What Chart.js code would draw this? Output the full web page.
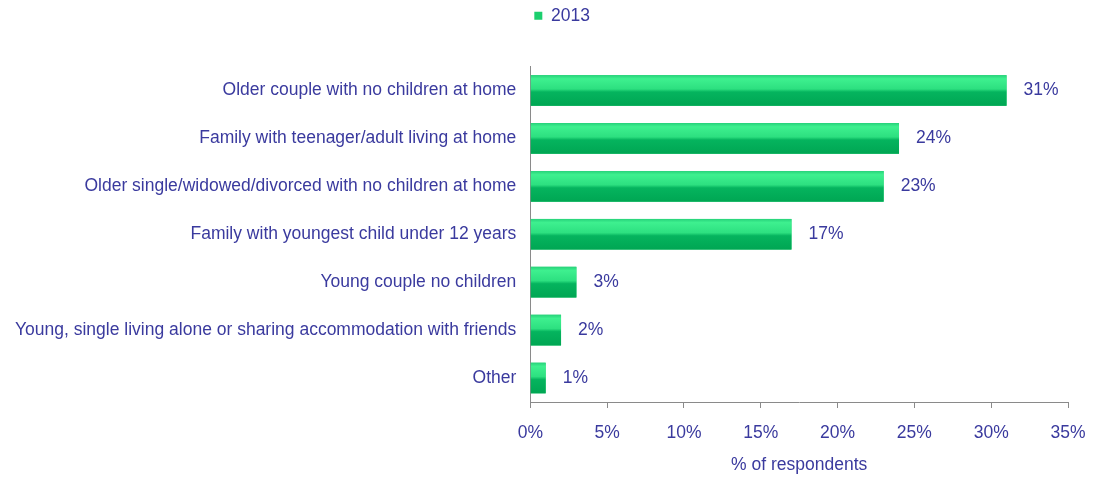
<!DOCTYPE html>
<html>
<head>
<meta charset="utf-8">
<script src="https://cdn.jsdelivr.net/npm/chart.js@4/dist/chart.umd.min.js"></script>
<style>
  html, body { margin: 0; padding: 0; background: #fff; }
  #wrap { width: 1102px; height: 478px; }
</style>
</head>
<body>
<div id="wrap"><canvas id="householdChart"></canvas></div>
<script>
// Household type of respondents, 2013
const categories = [
    'Older couple with no children at home',
    'Family with teenager/adult living at home',
    'Older single/widowed/divorced with no children at home',
    'Family with youngest child under 12 years',
    'Young couple no children',
    'Young, single living alone or sharing accommodation with friends',
    'Other'
];
const values2013 = [31, 24, 23, 17, 3, 2, 1];
const seriesName = '2013';
const axisTitle = '% of respondents';

const textColor = '#3a3a9e';
const axisColor = '#8a8a8a';
const fontFamily = '"Liberation Sans", Arial, sans-serif';
const fontSize = 17.5;

// value labels to the right of each bar
const valueLabels = {
    id: 'valueLabels',
    afterDatasetsDraw(chart) {
        const ctx = chart.ctx;
        const meta = chart.getDatasetMeta(0);
        ctx.save();
        ctx.font = fontSize + 'px ' + fontFamily;
        ctx.fillStyle = textColor;
        ctx.textAlign = 'left';
        ctx.textBaseline = 'middle';
        meta.data.forEach((bar, i) => {
            ctx.fillText(values2013[i] + '%', bar.x + 17, bar.y);
        });
        ctx.restore();
    }
};

// shaded look on the bars
const barShade = {
    id: 'barShade',
    afterDatasetsDraw(chart) {
        const ctx = chart.ctx;
        const meta = chart.getDatasetMeta(0);
        ctx.save();
        meta.data.forEach(bar => {
            const top = bar.y - bar.height / 2;
            const left = bar.base;
            const w = bar.x - bar.base;
            const h = bar.height;
            const g = ctx.createLinearGradient(0, top, 0, top + h);
            g.addColorStop(0, '#27d27a');
            g.addColorStop(0.12, '#3ef08f');
            g.addColorStop(0.45, '#2de080');
            g.addColorStop(0.55, '#05b45e');
            g.addColorStop(1, '#00a653');
            ctx.fillStyle = g;
            ctx.fillRect(left, top, w, h);
        });
        ctx.restore();
    }
};

// extra room below the legend
const legendGap = {
    id: 'legendGap',
    beforeInit(chart) {
        const fit = chart.legend.fit;
        chart.legend.fit = function () {
            fit.bind(chart.legend)();
            this.height += 32;
        };
    }
};

new Chart(document.getElementById('householdChart').getContext('2d'), {
    type: 'bar',
    data: {
        labels: categories,
        datasets: [{
            label: seriesName,
            data: values2013,
            backgroundColor: '#1ccf6e',
            borderWidth: 0,
            barPercentage: 0.64,
            categoryPercentage: 1.0
        }]
    },
    options: {
        indexAxis: 'y',
        responsive: true,
        maintainAspectRatio: false,
        animation: false,
        layout: { padding: { left: 1, right: 34, top: 3, bottom: 2 } },
        plugins: {
            legend: {
                display: true,
                position: 'top',
                align: 'start',
                fullSize: false,
                labels: {
                    boxWidth: 8,
                    boxHeight: 8,
                    padding: 4,
                    color: textColor,
                    font: { family: fontFamily, size: fontSize },
                    generateLabels() {
                        return [{
                            text: seriesName,
                            fillStyle: '#1ccf6e',
                            strokeStyle: '#1ccf6e',
                            lineWidth: 0,
                            fontColor: textColor
                        }];
                    }
                }
            },
            tooltip: { enabled: false }
        },
        scales: {
            x: {
                min: 0,
                max: 35,
                ticks: {
                    stepSize: 5,
                    color: textColor,
                    padding: 15,
                    font: { family: fontFamily, size: fontSize },
                    callback: v => v + '%'
                },
                grid: {
                    display: true,
                    drawOnChartArea: false,
                    drawTicks: true,
                    tickLength: 6,
                    color: axisColor
                },
                border: { display: true, color: axisColor },
                title: {
                    display: true,
                    text: axisTitle,
                    color: textColor,
                    padding: { top: -4, bottom: 0 },
                    font: { family: fontFamily, size: fontSize }
                }
            },
            y: {
                ticks: {
                    color: textColor,
                    padding: 14,
                    font: { family: fontFamily, size: fontSize }
                },
                grid: { display: false, drawTicks: false },
                border: { display: true, color: axisColor }
            }
        }
    },
    plugins: [legendGap, barShade, valueLabels]
});
</script>
</body>
</html>
